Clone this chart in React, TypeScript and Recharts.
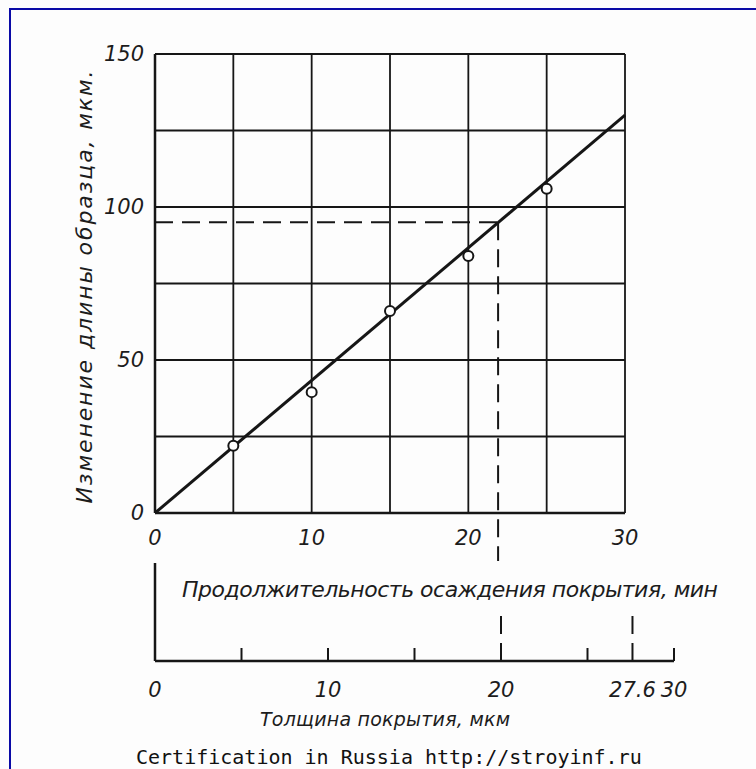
import React from 'react'
import {
  ScatterChart,
  Scatter,
  XAxis,
  YAxis,
  CartesianGrid,
  ReferenceLine,
  Label,
} from 'recharts'

// deposition time, min (upper x axis)
const minuteTicks = [0, 5, 10, 15, 20, 25, 30]
const minuteLabels = [0, 10, 20, 30]

// change of sample length (y axis)
const lengthTicks = [0, 25, 50, 75, 100, 125, 150]
const lengthLabels = [0, 50, 100, 150]

// measured points
const measured = [
  { t: 5, dl: 22 },
  { t: 10, dl: 39.5 },
  { t: 15, dl: 66 },
  { t: 20, dl: 84 },
  { t: 25, dl: 106 },
]

// fitted straight line
const fitLine = [
  { t: 0, dl: 0 },
  { t: 30, dl: 130 },
]

// read-off on the graph
const readTime = 21.9
const readLength = 95
const leaderBottom = -15.7

// coating thickness, µm (lower axis)
const umTicks = [0, 5, 10, 15, 20, 25, 27.6, 30]
const umLabels = [0, 10, 20, 27.6, 30]
const umMarked = [20, 27.6]
const umReadings = umMarked.map((um) => ({ um, h: 0 }))

const INK = '#161616'
const FONT = '"DejaVu Sans", sans-serif'

const textStyle: React.CSSProperties = {
  fontFamily: FONT,
  fontStyle: 'italic',
  fontSize: 21,
  fill: '#1c1c1c',
}

const titleStyle: React.CSSProperties = { ...textStyle, fontSize: 22 }
const umTitleStyle: React.CSSProperties = { ...textStyle, fontSize: 19 }

function MinuteTick({ x, y, payload }: any) {
  if (!minuteLabels.includes(payload.value)) return <g />
  return (
    <text x={x} y={y + 32} textAnchor="middle" style={textStyle}>
      {payload.value}
    </text>
  )
}

function LengthTick({ x, y, payload }: any) {
  if (!lengthLabels.includes(payload.value)) return <g />
  return (
    <text x={x} y={y} textAnchor="end" dominantBaseline="central" style={textStyle}>
      {payload.value}
    </text>
  )
}

function UmTick({ x, y, payload }: any) {
  const v = payload.value
  return (
    <g>
      {v !== 0 && !umMarked.includes(v) && (
        <line x1={x} x2={x} y1={y} y2={y - 13} stroke={INK} strokeWidth={2} />
      )}
      {umLabels.includes(v) && (
        <text x={x} y={y + 36} textAnchor="middle" style={textStyle}>
          {v}
        </text>
      )}
    </g>
  )
}

function XTitle({ viewBox }: any) {
  return (
    <text
      x={viewBox.x + 295}
      y={viewBox.y + 84}
      textAnchor="middle"
      textLength={536}
      lengthAdjust="spacing"
      style={titleStyle}
    >
      Продолжительность осаждения покрытия, мин
    </text>
  )
}

function YTitle({ viewBox }: any) {
  const cx = viewBox.x + 27
  const cy = viewBox.y + 233
  return (
    <text
      x={cx}
      y={cy}
      transform={`rotate(-90, ${cx}, ${cy})`}
      textAnchor="middle"
      textLength={433}
      lengthAdjust="spacing"
      style={titleStyle}
    >
      Изменение длины образца, мкм.
    </text>
  )
}

function UmTitle({ viewBox }: any) {
  return (
    <text
      x={viewBox.x + 230}
      y={viewBox.y + 65}
      textAnchor="middle"
      textLength={250}
      lengthAdjust="spacing"
      style={umTitleStyle}
    >
      Толщина покрытия, мкм
    </text>
  )
}

const OpenDot = (p: any) => (
  <circle cx={p.cx} cy={p.cy} r={5} fill="#fff" stroke={INK} strokeWidth={2} />
)

export default function App() {
  return (
    <div
      style={{
        position: 'absolute',
        left: 0,
        top: 0,
        width: 756,
        height: 769,
        background: '#fdfdfd',
        overflow: 'hidden',
      }}
    >
      <div
        style={{
          position: 'absolute',
          left: 9,
          top: 8,
          right: 0,
          bottom: 0,
          borderTop: '2px solid #0a0aa6',
          borderLeft: '2px solid #0a0aa6',
        }}
      />

      <div style={{ position: 'absolute', left: 0, top: 0 }}>
        <ScatterChart width={756} height={769} margin={{ top: 54, right: 131, bottom: 156, left: 65 }}>
          <CartesianGrid stroke={INK} strokeWidth={1.8} />
          <XAxis
            type="number"
            dataKey="t"
            domain={[0, 30]}
            ticks={minuteTicks}
            interval={0}
            height={100}
            tickLine={false}
            tickSize={0}
            tickMargin={0}
            tick={<MinuteTick />}
            axisLine={{ stroke: INK, strokeWidth: 2.5 }}
          >
            <Label content={<XTitle />} />
          </XAxis>
          <YAxis
            type="number"
            dataKey="dl"
            domain={[0, 150]}
            ticks={lengthTicks}
            interval={0}
            width={90}
            tickLine={false}
            tickSize={0}
            tickMargin={11}
            tick={<LengthTick />}
            axisLine={{ stroke: INK, strokeWidth: 2.5 }}
          >
            <Label content={<YTitle />} />
          </YAxis>
          <ReferenceLine
            segment={[
              { x: 0, y: readLength },
              { x: readTime, y: readLength },
            ]}
            stroke={INK}
            strokeWidth={2}
            strokeDasharray="18 9"
            ifOverflow="visible"
          />
          <ReferenceLine
            segment={[
              { x: readTime, y: readLength },
              { x: readTime, y: leaderBottom },
            ]}
            stroke={INK}
            strokeWidth={2}
            strokeDasharray="18 9"
            ifOverflow="visible"
          />
          <Scatter
            data={fitLine}
            line={{ stroke: INK, strokeWidth: 3 }}
            shape={() => <g />}
            isAnimationActive={false}
          />
          <Scatter data={measured} shape={OpenDot} isAnimationActive={false} />
        </ScatterChart>
      </div>

      <div style={{ position: 'absolute', left: 0, top: 0 }}>
        <ScatterChart width={756} height={769} margin={{ top: 563, right: 82, bottom: 28, left: 145 }}>
          <XAxis
            type="number"
            dataKey="um"
            domain={[0, 30]}
            ticks={umTicks}
            interval={0}
            height={80}
            tickLine={false}
            tickSize={0}
            tickMargin={0}
            tick={<UmTick />}
            axisLine={{ stroke: INK, strokeWidth: 2.5 }}
          >
            <Label content={<UmTitle />} />
          </XAxis>
          <YAxis
            type="number"
            dataKey="h"
            domain={[0, 1]}
            width={10}
            tick={false}
            tickLine={false}
            axisLine={{ stroke: INK, strokeWidth: 2.5 }}
          />
          {umMarked.map((v) => (
            <ReferenceLine
              key={v}
              segment={[
                { x: v, y: 0 },
                { x: v, y: 0.5 },
              ]}
              stroke={INK}
              strokeWidth={2}
              strokeDasharray="18 9"
            />
          ))}
          <Scatter data={umReadings} shape={() => <g />} isAnimationActive={false} />
        </ScatterChart>
      </div>

      <div
        style={{
          position: 'absolute',
          left: 136,
          top: 746,
          fontFamily: '"DejaVu Sans Mono", monospace',
          fontSize: 20,
          lineHeight: '22px',
          color: '#111',
          whiteSpace: 'pre',
        }}
      >
        Certification in Russia http://stroyinf.ru
      </div>
    </div>
  )
}
